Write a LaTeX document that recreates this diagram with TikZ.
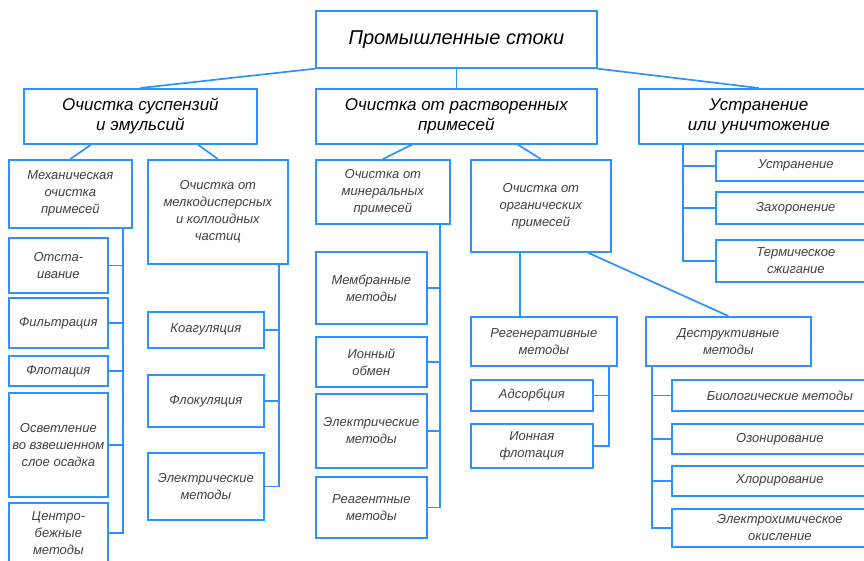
\documentclass[tikz,border=0pt]{standalone}
\usepackage{fontspec}
\setmainfont{Liberation Sans}
\usepackage{tikz}
\usetikzlibrary{positioning}
\definecolor{lineblue}{RGB}{45,145,255}
\tikzset{
  box/.style = {draw=lineblue, line width=1.7pt, rectangle, anchor=north west,
                inner sep=1pt, align=center, text=black!75,
                font=\itshape\fontsize{13}{17}\selectfont},
  head/.style = {box, text=black, font=\itshape\fontsize{17}{20}\selectfont},
  link/.style = {draw=lineblue, line width=1.7pt}
}

\begin{document}
\begin{tikzpicture}[x=1pt, y=-1pt]
\useasboundingbox (0,0) rectangle (864,560);
\clip (0,0) rectangle (864,560);

\node[head, minimum width=281pt, minimum height=57pt, font=\itshape\fontsize{20}{24}\selectfont] (top) at (315,10) {Промышленные стоки};

\node[head, minimum width=233pt, minimum height=55pt] (susp) at (23,88) {Очистка суспензий\\и эмульсий};
\node[head, minimum width=281pt, minimum height=55pt] (dissolved) at (315,88) {Очистка от растворенных\\примесей};
\node[head, minimum width=240pt, minimum height=55pt] (removal) at (638,88) {Устранение\\или уничтожение};

% second row
\node[box, minimum width=123pt, minimum height=68pt] (mech) at (8,159) {Механическая\\очистка\\примесей};
\node[box, minimum width=140pt, minimum height=104pt] (fine) at (147,159) {Очистка от\\мелкодисперсных\\и коллоидных\\частиц};
\node[box, minimum width=134pt, minimum height=64pt] (mineral) at (315,159) {Очистка от\\минеральных\\примесей};
\node[box, minimum width=140pt, minimum height=92pt] (organic) at (470,159) {Очистка от\\органических\\примесей};

\node[box, minimum width=160pt, minimum height=30pt] (ustr) at (715,150) {Устранение};
\node[box, minimum width=160pt, minimum height=32pt] (zah) at (715,191) {Захоронение};
\node[box, minimum width=160pt, minimum height=42pt] (term) at (715,239) {Термическое\\сжигание};

% mechanical
\node[box, minimum width=99pt, minimum height=55pt] (otst) at (8,237) {Отста-\\ивание};
\node[box, minimum width=99pt, minimum height=50pt] (filt) at (8,297) {Фильтрация};
\node[box, minimum width=99pt, minimum height=30pt] (flot) at (8,355) {Флотация};
\node[box, minimum width=99pt, minimum height=104pt] (osv) at (8,392) {Осветление\\во взвешенном\\слое осадка};
\node[box, minimum width=99pt, minimum height=60pt] (centr) at (8,502) {Центро-\\бежные\\методы};

% colloids
\node[box, minimum width=116pt, minimum height=36pt] (koag) at (147,311) {Коагуляция};
\node[box, minimum width=116pt, minimum height=52pt] (flok) at (147,374) {Флокуляция};
\node[box, minimum width=116pt, minimum height=67pt] (elecA) at (147,452) {Электрические\\методы};

% mineral
\node[box, minimum width=111pt, minimum height=72pt] (membr) at (315,251) {Мембранные\\методы};
\node[box, minimum width=111pt, minimum height=50pt] (ion) at (315,336) {Ионный\\обмен};
\node[box, minimum width=111pt, minimum height=74pt] (elecB) at (315,393) {Электрические\\методы};
\node[box, minimum width=111pt, minimum height=61pt] (reag) at (315,476) {Реагентные\\методы};

% organic
\node[box, minimum width=146pt, minimum height=49pt] (regen) at (470,316) {Регенеративные\\методы};
\node[box, minimum width=122pt, minimum height=31pt] (adsorb) at (470,379) {Адсорбция};
\node[box, minimum width=122pt, minimum height=44pt] (ionflot) at (470,423) {Ионная\\флотация};

\node[box, minimum width=165pt, minimum height=49pt] (destr) at (645,316) {Деструктивные\\методы};
\node[box, minimum width=216pt, minimum height=31pt] (bio) at (671,379) {Биологические методы};
\node[box, minimum width=216pt, minimum height=30pt] (ozon) at (671,423) {Озонирование};
\node[box, minimum width=216pt, minimum height=30pt] (chlor) at (671,465) {Хлорирование};
\node[box, minimum width=216pt, minimum height=38pt] (echem) at (671,508) {Электрохимическое\\окисление};

% links
\draw[link] (top.south west) -- (susp.north);
\draw[link] (top.south) -- (dissolved.north);
\draw[link] (top.south east) -- (removal.north);

\draw[link] ([xshift=68pt]susp.south west) -- (mech.north);
\draw[link] ([xshift=175pt]susp.south west) -- (fine.north);
\draw[link] ([xshift=97pt]dissolved.south west) -- (mineral.north);
\draw[link] ([xshift=203pt]dissolved.south west) -- (organic.north);

\coordinate (sR) at ([xshift=45pt]removal.south west);
\draw[link] (sR) |- (term.west);
\foreach \n in {ustr, zah} \draw[link] (\n.west) -- (\n.west -| sR);

\coordinate (sM) at ([xshift=115pt]mech.south west);
\draw[link] (sM) |- (centr.east);
\foreach \n in {otst, filt, flot, osv} \draw[link] (\n.east) -- (\n.east -| sM);

\coordinate (sF) at ([xshift=132pt]fine.south west);
\draw[link] (sF) |- (elecA.east);
\foreach \n in {koag, flok} \draw[link] (\n.east) -- (\n.east -| sF);

\coordinate (sN) at ([xshift=125pt]mineral.south west);
\draw[link] (sN) |- (reag.east);
\foreach \n in {membr, ion, elecB} \draw[link] (\n.east) -- (\n.east -| sN);

\draw[link] ([xshift=50pt]organic.south west) -- ([xshift=50pt]regen.north west);
\draw[link] ([xshift=118pt]organic.south west) -- (destr.north);

\coordinate (sG) at ([xshift=139pt]regen.south west);
\draw[link] (sG) |- (ionflot.east);
\draw[link] (adsorb.east) -- (adsorb.east -| sG);

\coordinate (sD) at ([xshift=7pt]destr.south west);
\draw[link] (sD) |- (echem.west);
\foreach \n in {bio, ozon, chlor} \draw[link] (\n.west) -- (\n.west -| sD);

\end{tikzpicture}
\end{document}
